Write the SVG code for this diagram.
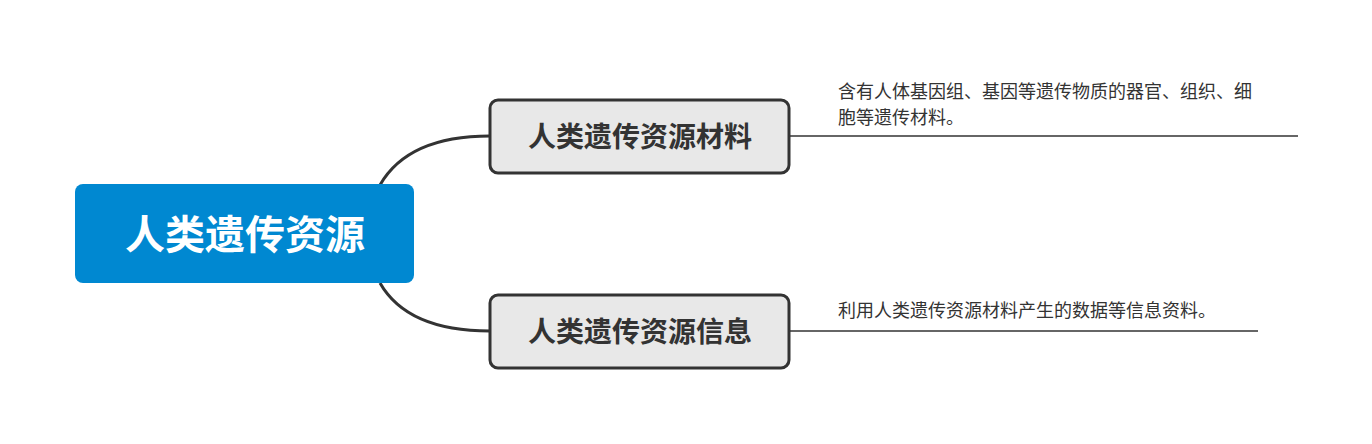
<svg xmlns="http://www.w3.org/2000/svg" width="1372" height="444" viewBox="0 0 1372 444">
<style>
.f{font-family:"Liberation Sans","Noto Sans CJK SC",sans-serif}
.child rect{fill:#e8e8e8;stroke:#333;stroke-width:3}
.child text{font-size:28px;font-weight:bold;fill:#333;text-anchor:middle}
.desc{font-size:18px;fill:#333}
.conn{fill:none;stroke:#333;stroke-width:3}
.ul{stroke:#333;stroke-width:1.5}
</style>
<rect width="1372" height="444" fill="#fff"/>
<g id="connectors">
<path class="conn" d="M380,185 C400,150 440,136 490,136"/>
<path class="conn" d="M380,283 C400,318 440,331 490,331"/>
<line class="ul" x1="789" y1="136" x2="1298" y2="136"/>
<line class="ul" x1="789" y1="331" x2="1258" y2="331"/>
</g>
<g id="root">
<rect x="75" y="184" width="339" height="99" rx="8" fill="#0088d1"/>
<text class="f" x="245" y="249" font-size="40" font-weight="bold" fill="#fff" text-anchor="middle">人类遗传资源</text>
</g>
<g id="n1" class="child">
<rect x="490" y="100" width="299" height="73" rx="8"/>
<text class="f" x="640" y="147">人类遗传资源材料</text>
</g>
<g id="n2" class="child">
<rect x="490" y="295" width="299" height="73" rx="8"/>
<text class="f" x="640" y="342">人类遗传资源信息</text>
</g>
<g id="d1">
<text class="f desc" x="838" y="98">含有人体基因组、基因等遗传物质的器官、组织、细</text>
<text class="f desc" x="838" y="124">胞等遗传材料。</text>
</g>
<g id="d2">
<text class="f desc" x="838" y="317">利用人类遗传资源材料产生的数据等信息资料。</text>
</g>
</svg>
